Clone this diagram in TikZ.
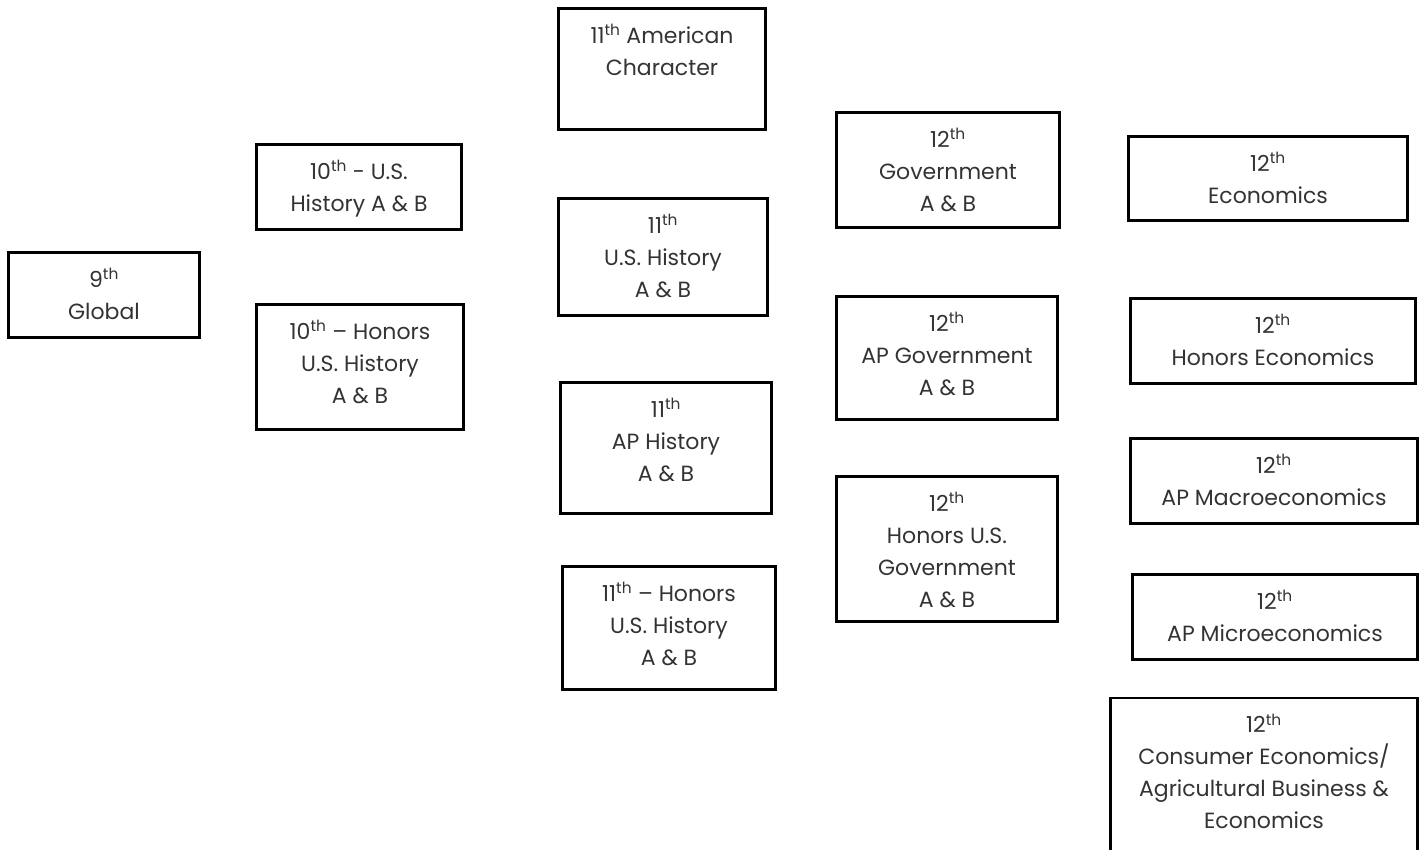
\documentclass[tikz,border=0pt]{standalone}
\usepackage{fontspec}
\setmainfont{Poppins}
\usepackage{tikz}
\usetikzlibrary{positioning}
\newcommand{\thsup}{\textsuperscript{th}}
\newcommand{\topstrut}{\rule{0pt}{22pt}}

\begin{document}
\begin{tikzpicture}[
  x=1pt, y=-1pt,
  course/.style={draw, line width=2.8pt, inner sep=0pt},
  lbl/.style={align=center, inner sep=0pt, text=black!80, font=\fontsize{22}{32}\selectfont}
]
\useasboundingbox (0,0) rectangle (1423,849);
\clip (0,0) rectangle (1423,849);
\node[course, minimum width=191, minimum height=85] (glb) at (104,295) {};
\node[lbl, below=14pt of glb.north] (glb-t) {\topstrut 9\thsup\\Global};
\node[course, minimum width=205, minimum height=85] (us10) at (359,187) {};
\node[lbl, below=14pt of us10.north] (us10-t) {\topstrut 10\thsup{} - U.S.\\History A \& B};
\node[course, minimum width=207, minimum height=125] (hn10) at (360,367) {};
\node[lbl, below=14pt of hn10.north] (hn10-t) {\topstrut 10\thsup{} – Honors\\U.S. History\\A \& B};
\node[course, minimum width=207, minimum height=121] (am11) at (662,69) {};
\node[lbl, below=14pt of am11.north] (am11-t) {\topstrut 11\thsup{} American\\Character};
\node[course, minimum width=209, minimum height=117] (us11) at (663,257) {};
\node[lbl, below=14pt of us11.north] (us11-t) {\topstrut 11\thsup\\U.S. History\\A \& B};
\node[course, minimum width=211, minimum height=131] (ap11) at (666,448) {};
\node[lbl, below=14pt of ap11.north] (ap11-t) {\topstrut 11\thsup\\AP History\\A \& B};
\node[course, minimum width=213, minimum height=123] (hn11) at (669,628) {};
\node[lbl, below=14pt of hn11.north] (hn11-t) {\topstrut 11\thsup{} – Honors\\U.S. History\\A \& B};
\node[course, minimum width=223, minimum height=115] (gv12) at (948,170) {};
\node[lbl, below=14pt of gv12.north] (gv12-t) {\topstrut 12\thsup\\Government\\A \& B};
\node[course, minimum width=221, minimum height=123] (ag12) at (947,358) {};
\node[lbl, below=14pt of ag12.north] (ag12-t) {\topstrut 12\thsup\\AP Government\\A \& B};
\node[course, minimum width=221, minimum height=145] (hg12) at (947,549) {};
\node[lbl, below=14pt of hg12.north] (hg12-t) {\topstrut 12\thsup\\Honors U.S.\\Government\\A \& B};
\node[course, minimum width=279, minimum height=84] (ec12) at (1268,178.5) {};
\node[lbl, below=14pt of ec12.north] (ec12-t) {\topstrut 12\thsup\\Economics};
\node[course, minimum width=285, minimum height=85] (he12) at (1273,341) {};
\node[lbl, below=14pt of he12.north] (he12-t) {\topstrut 12\thsup\\Honors Economics};
\node[course, minimum width=287, minimum height=85] (ma12) at (1274,481) {};
\node[lbl, below=14pt of ma12.north] (ma12-t) {\topstrut 12\thsup\\AP Macroeconomics};
\node[course, minimum width=285, minimum height=85] (mi12) at (1275,617) {};
\node[lbl, below=14pt of mi12.north] (mi12-t) {\topstrut 12\thsup\\AP Microeconomics};
\node[course, minimum width=307, minimum height=161] (cn12) at (1264,778.5) {};
\node[lbl, below=14pt of cn12.north] (cn12-t) {\topstrut 12\thsup\\Consumer Economics/\\Agricultural Business \&\\Economics};
\end{tikzpicture}
\end{document}
